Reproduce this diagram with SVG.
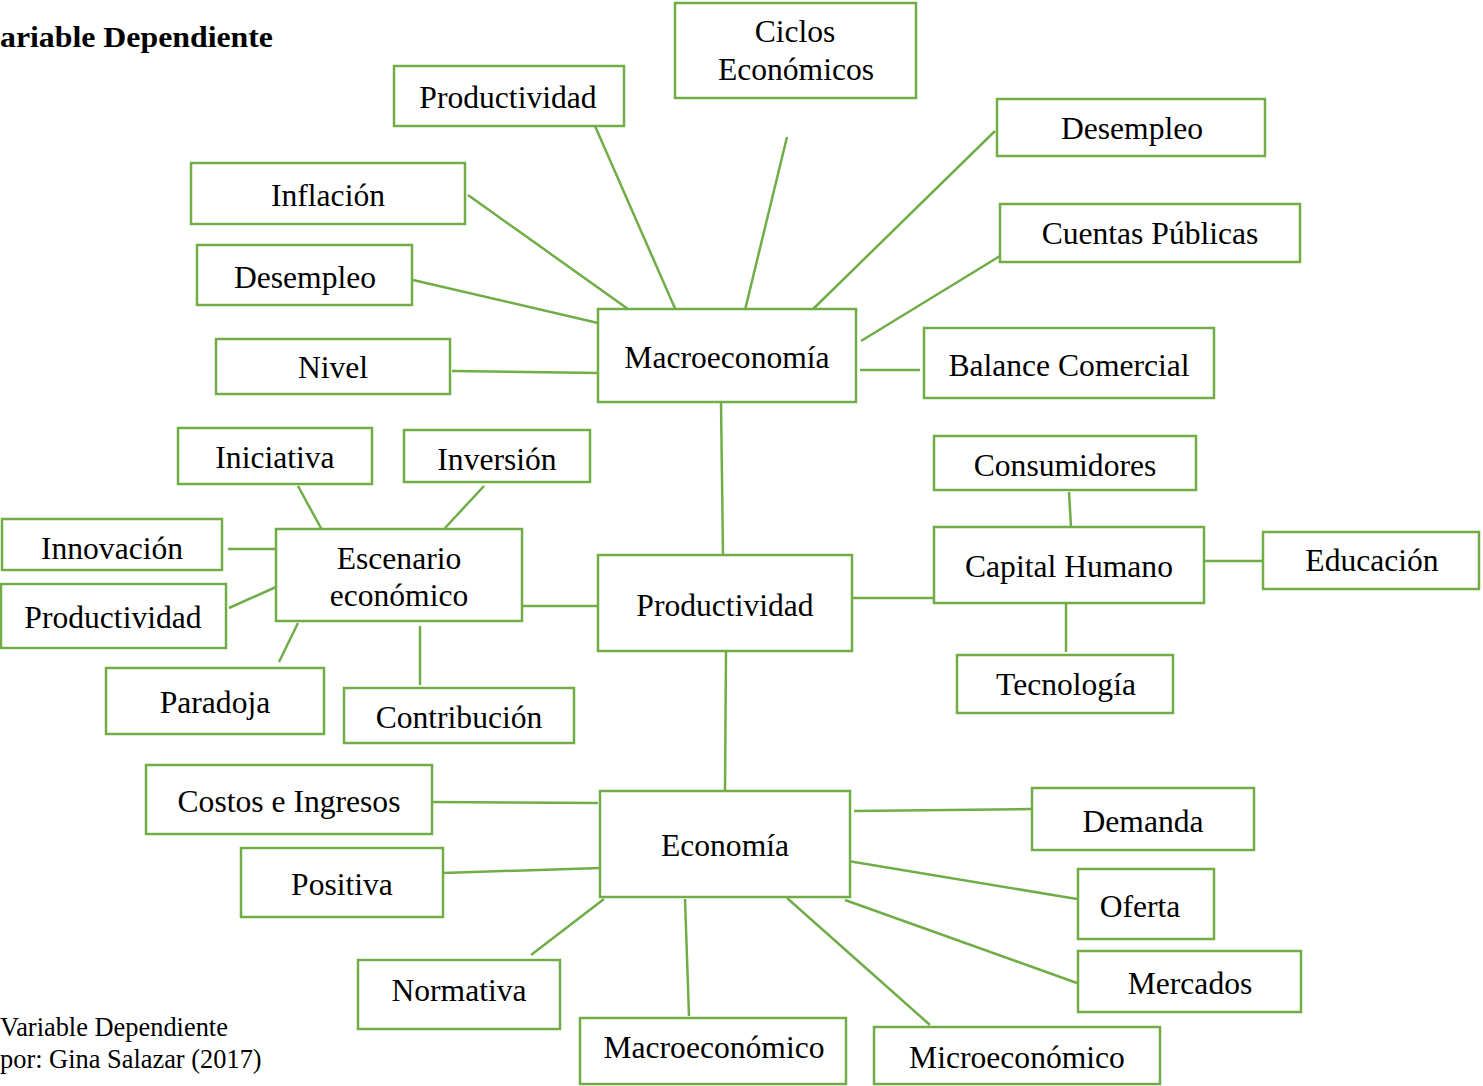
<svg xmlns="http://www.w3.org/2000/svg" width="1483" height="1086" viewBox="0 0 1483 1086">
<style>
.b{fill:#fff;stroke:#70AD47;stroke-width:2.5}
.l{fill:none;stroke:#70AD47;stroke-width:2.5}
.t{font-family:"Liberation Serif","Times New Roman",serif;font-size:31.6px;fill:#000;text-anchor:middle}
.h{font-family:"Liberation Serif","Times New Roman",serif;font-size:30px;font-weight:bold;fill:#000}
.c{font-family:"Liberation Serif","Times New Roman",serif;font-size:26.4px;fill:#000}
</style>
<rect width="1483" height="1086" fill="#fff"/>
<text class="h" x="0" y="47" textLength="273" lengthAdjust="spacingAndGlyphs">ariable Dependiente</text>
<text class="c" x="0" y="1036">Variable Dependiente</text>
<text class="c" x="0" y="1068">por: Gina Salazar (2017)</text>
<g id="connectors">
<line class="l" x1="595" y1="126" x2="677" y2="313"/>
<line class="l" x1="468" y1="195" x2="628" y2="309"/>
<line class="l" x1="413" y1="280" x2="598" y2="323"/>
<line class="l" x1="452" y1="371" x2="598" y2="373"/>
<line class="l" x1="787" y1="137" x2="745" y2="310"/>
<line class="l" x1="995" y1="131" x2="809" y2="313"/>
<line class="l" x1="1000" y1="256" x2="861" y2="341"/>
<line class="l" x1="860" y1="370" x2="920" y2="370"/>
<line class="l" x1="721" y1="403" x2="723" y2="555"/>
<line class="l" x1="298" y1="486" x2="322" y2="530"/>
<line class="l" x1="484" y1="486" x2="445" y2="528"/>
<line class="l" x1="228" y1="549" x2="276" y2="549"/>
<line class="l" x1="229" y1="608" x2="276" y2="587"/>
<line class="l" x1="298" y1="623" x2="279" y2="662"/>
<line class="l" x1="420" y1="626" x2="420" y2="685"/>
<line class="l" x1="522" y1="606" x2="598" y2="606"/>
<line class="l" x1="852" y1="598" x2="934" y2="598"/>
<line class="l" x1="1069" y1="492" x2="1071" y2="527"/>
<line class="l" x1="1204" y1="561" x2="1263" y2="561"/>
<line class="l" x1="1066" y1="601" x2="1066" y2="652"/>
<line class="l" x1="726" y1="651" x2="725" y2="791"/>
<line class="l" x1="432" y1="802" x2="598" y2="803"/>
<line class="l" x1="443" y1="873" x2="600" y2="868"/>
<line class="l" x1="531" y1="955" x2="604" y2="899"/>
<line class="l" x1="685" y1="899" x2="689" y2="1016"/>
<line class="l" x1="787" y1="898" x2="930" y2="1025"/>
<line class="l" x1="854" y1="811" x2="1032" y2="809"/>
<line class="l" x1="848" y1="861" x2="1077" y2="899"/>
<line class="l" x1="845" y1="900" x2="1077" y2="983"/>
</g>
<g id="ciclos"><rect class="b" x="675" y="3" width="241" height="95"/><text class="t" x="795" y="42">Ciclos</text><text class="t" x="796" y="80">Económicos</text></g>
<g id="productividad-top"><rect class="b" x="394" y="66" width="230" height="60"/><text class="t" x="508" y="108">Productividad</text></g>
<g id="inflacion"><rect class="b" x="191" y="163" width="274" height="61"/><text class="t" x="328" y="206">Inflación</text></g>
<g id="desempleo-left"><rect class="b" x="197" y="245" width="215" height="60"/><text class="t" x="305" y="288">Desempleo</text></g>
<g id="nivel"><rect class="b" x="216" y="339" width="234" height="55"/><text class="t" x="333" y="378">Nivel</text></g>
<g id="macroeconomia"><rect class="b" x="598" y="309" width="258" height="93"/><text class="t" x="727" y="368">Macroeconomía</text></g>
<g id="desempleo-right"><rect class="b" x="997" y="99" width="268" height="57"/><text class="t" x="1132" y="139">Desempleo</text></g>
<g id="cuentas"><rect class="b" x="1000" y="204" width="300" height="58"/><text class="t" x="1150" y="244">Cuentas Públicas</text></g>
<g id="balance"><rect class="b" x="924" y="328" width="290" height="70"/><text class="t" x="1069" y="376">Balance Comercial</text></g>
<g id="iniciativa"><rect class="b" x="178" y="428" width="194" height="56"/><text class="t" x="275" y="468">Iniciativa</text></g>
<g id="inversion"><rect class="b" x="404" y="430" width="186" height="52"/><text class="t" x="497" y="470">Inversión</text></g>
<g id="innovacion"><rect class="b" x="2" y="519" width="220" height="51"/><text class="t" x="112" y="559">Innovación</text></g>
<g id="productividad-left"><rect class="b" x="1" y="584" width="225" height="64"/><text class="t" x="113" y="628">Productividad</text></g>
<g id="escenario"><rect class="b" x="276" y="529" width="246" height="92"/><text class="t" x="399" y="569">Escenario</text><text class="t" x="399" y="606">económico</text></g>
<g id="paradoja"><rect class="b" x="106" y="668" width="218" height="66"/><text class="t" x="215" y="713">Paradoja</text></g>
<g id="contribucion"><rect class="b" x="344" y="688" width="230" height="55"/><text class="t" x="459" y="728">Contribución</text></g>
<g id="productividad-center"><rect class="b" x="598" y="555" width="254" height="96"/><text class="t" x="725" y="616">Productividad</text></g>
<g id="consumidores"><rect class="b" x="934" y="436" width="262" height="54"/><text class="t" x="1065" y="476">Consumidores</text></g>
<g id="capital"><rect class="b" x="934" y="527" width="270" height="76"/><text class="t" x="1069" y="577">Capital Humano</text></g>
<g id="educacion"><rect class="b" x="1263" y="532" width="216" height="57"/><text class="t" x="1372" y="571">Educación</text></g>
<g id="tecnologia"><rect class="b" x="957" y="655" width="216" height="58"/><text class="t" x="1066" y="695">Tecnología</text></g>
<g id="costos"><rect class="b" x="146" y="765" width="286" height="69"/><text class="t" x="289" y="812">Costos e Ingresos</text></g>
<g id="economia"><rect class="b" x="600" y="791" width="250" height="106"/><text class="t" x="725" y="856">Economía</text></g>
<g id="demanda"><rect class="b" x="1032" y="788" width="222" height="62"/><text class="t" x="1143" y="832">Demanda</text></g>
<g id="positiva"><rect class="b" x="241" y="848" width="202" height="69"/><text class="t" x="342" y="895">Positiva</text></g>
<g id="oferta"><rect class="b" x="1078" y="869" width="136" height="70"/><text class="t" x="1140" y="917">Oferta</text></g>
<g id="normativa"><rect class="b" x="358" y="960" width="202" height="69"/><text class="t" x="459" y="1001">Normativa</text></g>
<g id="mercados"><rect class="b" x="1078" y="951" width="223" height="61"/><text class="t" x="1190" y="994">Mercados</text></g>
<g id="macroeconomico"><rect class="b" x="580" y="1018" width="266" height="66"/><text class="t" x="714" y="1058">Macroeconómico</text></g>
<g id="microeconomico"><rect class="b" x="874" y="1027" width="286" height="57"/><text class="t" x="1017" y="1068">Microeconómico</text></g>
</svg>
